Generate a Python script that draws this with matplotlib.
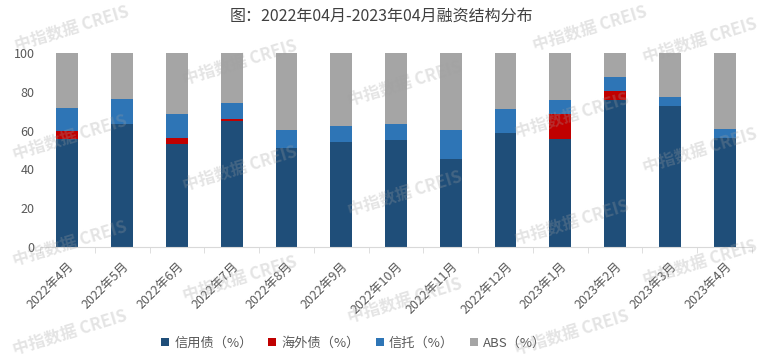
import matplotlib
matplotlib.use("Agg")
import matplotlib.pyplot as plt
import numpy as np

plt.rcParams['font.family'] = ['Noto Sans CJK SC', 'DejaVu Sans']

months = ["2022年4月", "2022年5月", "2022年6月", "2022年7月", "2022年8月", "2022年9月",
          "2022年10月", "2022年11月", "2022年12月", "2023年1月", "2023年2月", "2023年3月", "2023年4月"]
credit = [55.7, 63.2, 53.3, 64.9, 51.0, 54.1, 55.2, 45.4, 58.8, 55.7, 75.9, 72.7, 56.2]
overseas = [4.3, 0, 2.9, 1.1, 0, 0, 0, 0, 0, 12.9, 4.5, 0, 0]
trust = [11.4, 13.1, 12.4, 8.2, 9.3, 8.3, 8.2, 14.9, 12.3, 7.2, 7.2, 4.6, 4.6]
abs_ = [100 - c - o - t for c, o, t in zip(credit, overseas, trust)]
series_names = ["信用债（%）", "海外债（%）", "信托（%）", "ABS（%）"]
colors = ["#1F4E79", "#C00000", "#2E75B6", "#A5A5A5"]
title = "图：2022年04月-2023年04月融资结构分布"

fig = plt.figure(figsize=(7.59, 3.60), dpi=100)
ax = fig.add_axes([40/759, 1-247/360, 712/759, 194/360])

x = np.arange(len(months))
bottom = np.zeros(len(months))
for vals, name, col in zip([credit, overseas, trust, abs_], series_names, colors):
    ax.bar(x, vals, width=0.4, bottom=bottom, color=col, label=name, zorder=2)
    bottom += np.array(vals)

ax.set_xlim(-0.5, len(months) - 0.5)
ax.set_ylim(0, 100)
ax.set_yticks([0, 20, 40, 60, 80, 100])
ax.tick_params(axis='y', length=0, labelsize=9, labelcolor='#595959', pad=4)
for s in ['top', 'right', 'left']:
    ax.spines[s].set_visible(False)
ax.spines['bottom'].set_color('#D9D9D9')
ax.set_xticks(x)
ax.set_xticklabels(months, rotation=45, ha='right', va='top', rotation_mode='anchor',
                   fontsize=9, color='#595959')
ax.tick_params(axis='x', which='major', length=0, pad=9)
ax.set_xticks(np.arange(-0.5, len(months)), minor=True)
ax.tick_params(axis='x', which='minor', length=4, color='#D9D9D9', direction='out')

fig.text(0.503, 1-16/360, title, ha='center', va='center', fontsize=11.5, color='#404040')

handles, labels = ax.get_legend_handles_labels()
fig.legend(handles, labels, loc='center', bbox_to_anchor=(0.466, 1-343/360), ncol=4,
           frameon=False, fontsize=9.5, handlelength=0.6, handleheight=0.6,
           handletextpad=0.4, columnspacing=1.2, labelcolor='#595959')

# watermarks
wm_pos = [(72, 28), (240, 62), (405, 83), (590, 28), (700, 40),
          (70, 137), (240, 168), (405, 193), (572, 115), (700, 150),
          (70, 243), (240, 278), (405, 300), (572, 222), (700, 262),
          (70, 332), (572, 332)]
for (px, py) in wm_pos:
    fig.text(px/759, 1-py/360, "中指数据 CREIS", ha='center', va='center', rotation=17,
             fontsize=12, fontweight='bold', color='#A0A0A0', alpha=0.28, zorder=10)

fig.savefig("out.png", dpi=100)
